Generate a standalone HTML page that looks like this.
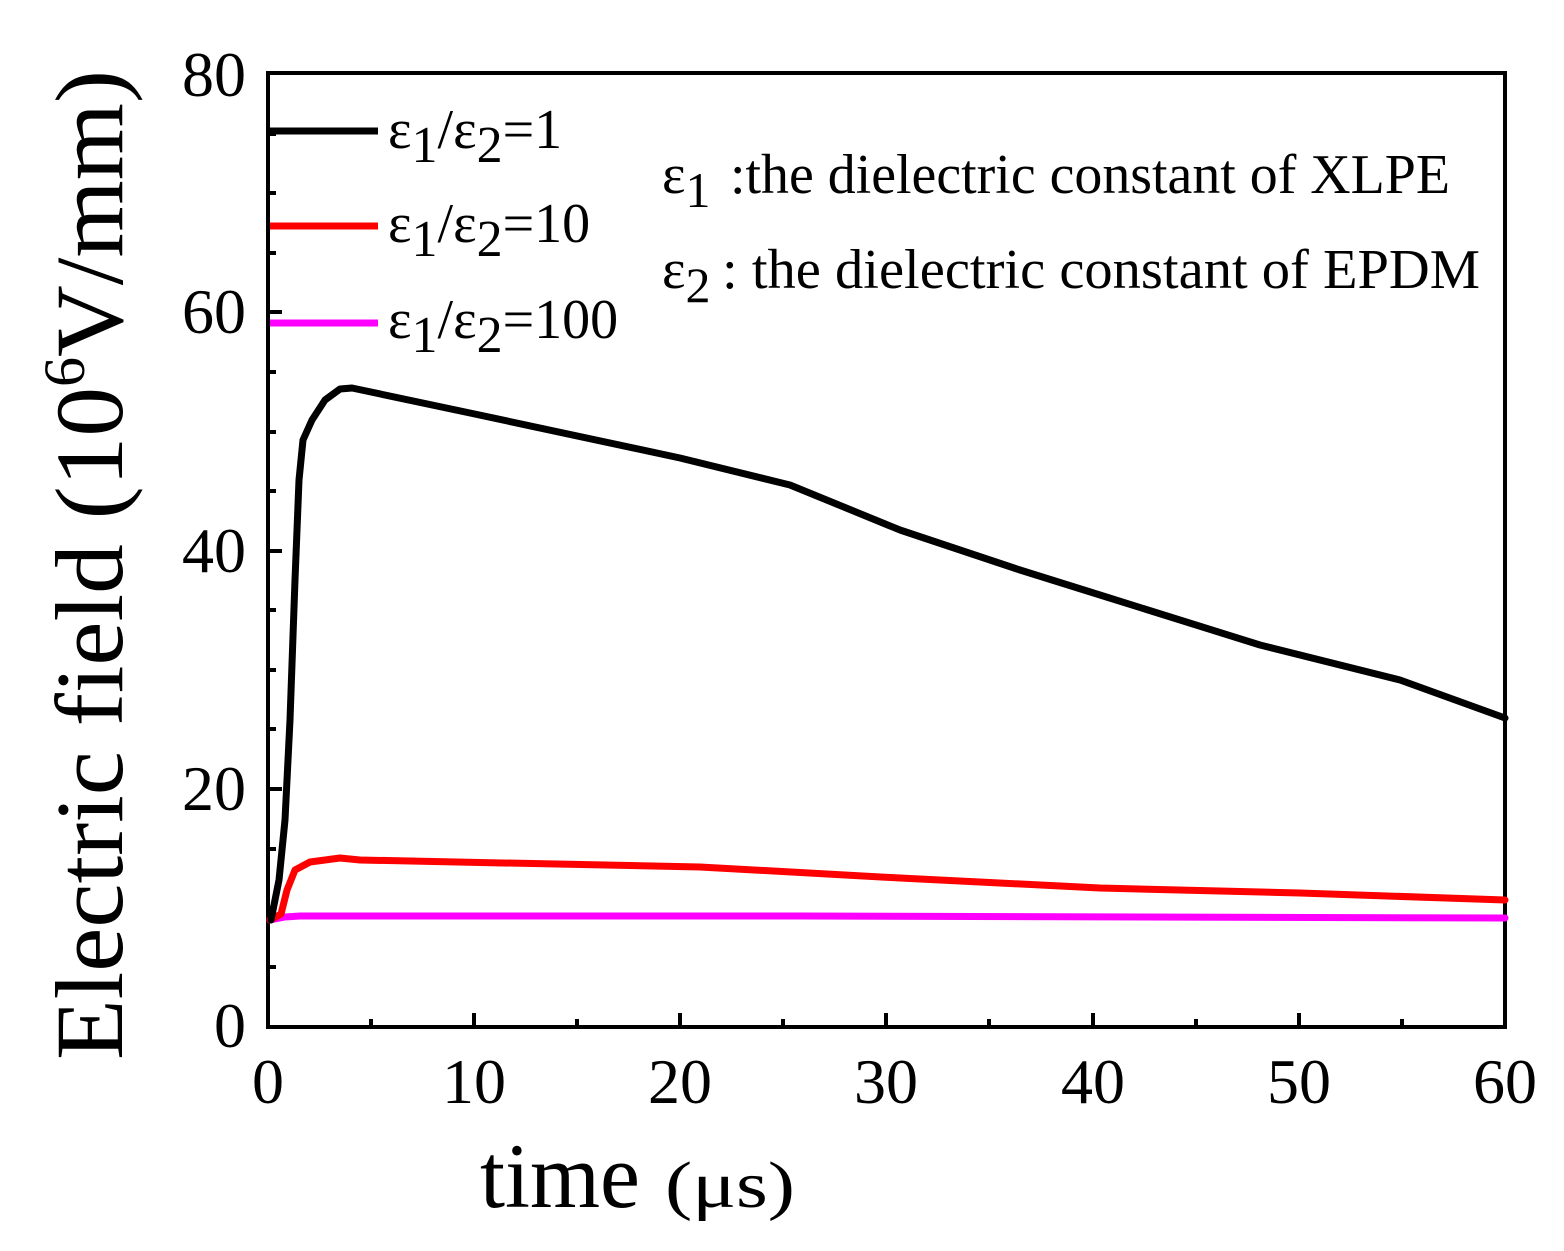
<!DOCTYPE html>
<html><head><meta charset="utf-8"><style>body{margin:0;background:#fff}svg{display:block}</style></head>
<body>
<svg width="1564" height="1251" viewBox="0 0 1564 1251" xmlns="http://www.w3.org/2000/svg" font-family="'Liberation Serif', serif">
<rect width="1564" height="1251" fill="#fff"/>
<g stroke="#000" stroke-width="4" fill="none">
<rect x="268" y="73" width="1237" height="954"/>
<path d="M268 1027v-14M371 1027v-8M474 1027v-14M577 1027v-8M680 1027v-14M783 1027v-8M886 1027v-14M989 1027v-8M1093 1027v-14M1196 1027v-8M1299 1027v-14M1402 1027v-8"/>
<path d="M268 967h8M268 789h14M268 908h8M268 849h8M268 729h8M268 670h8M268 610h8M268 551h14M268 491h8M268 432h8M268 372h8M268 312h14M268 253h8M268 193h8M268 134h8"/>
</g>
<g font-size="64" fill="#000">
<text x="268" y="1103" text-anchor="middle">0</text>
<text x="474" y="1103" text-anchor="middle">10</text>
<text x="680" y="1103" text-anchor="middle">20</text>
<text x="886" y="1103" text-anchor="middle">30</text>
<text x="1093" y="1103" text-anchor="middle">40</text>
<text x="1299" y="1103" text-anchor="middle">50</text>
<text x="1505" y="1103" text-anchor="middle">60</text>
<text x="246" y="1047" text-anchor="end">0</text>
<text x="246" y="810" text-anchor="end">20</text>
<text x="246" y="572" text-anchor="end">40</text>
<text x="246" y="333" text-anchor="end">60</text>
<text x="246" y="96" text-anchor="end">80</text>
</g>
<text x="480" y="1207" font-size="92" textLength="160" lengthAdjust="spacingAndGlyphs">time</text>
<text x="665" y="1207" font-size="66" textLength="130" lengthAdjust="spacingAndGlyphs">(μs)</text>
<text transform="translate(122,1060) rotate(-90)" font-size="96" textLength="990" lengthAdjust="spacingAndGlyphs">Electric field (10<tspan font-size="58" dy="-38">6</tspan><tspan dy="38">V/mm)</tspan></text>
<g stroke-width="7">
<path d="M270 131H378" stroke="#000"/>
<path d="M270 226H378" stroke="#f00"/>
<path d="M270 323H378" stroke="#f0f"/>
</g>
<g font-size="56">
<text x="388" y="148">ε<tspan font-size="52" dy="14">1</tspan><tspan dy="-14">/ε</tspan><tspan font-size="52" dy="14">2</tspan><tspan dy="-14">=1</tspan></text>
<text x="388" y="242">ε<tspan font-size="52" dy="14">1</tspan><tspan dy="-14">/ε</tspan><tspan font-size="52" dy="14">2</tspan><tspan dy="-14">=10</tspan></text>
<text x="388" y="338">ε<tspan font-size="52" dy="14">1</tspan><tspan dy="-14">/ε</tspan><tspan font-size="52" dy="14">2</tspan><tspan dy="-14">=100</tspan></text>
<text x="662" y="193">ε<tspan font-size="50" dy="14">1</tspan></text>
<text x="730" y="193" textLength="720" lengthAdjust="spacingAndGlyphs">:the dielectric constant of XLPE</text>
<text x="662" y="288">ε<tspan font-size="50" dy="14">2</tspan></text>
<text x="722" y="288" textLength="758" lengthAdjust="spacingAndGlyphs">: the dielectric constant of EPDM</text>
</g>
<g fill="none" stroke-width="7" stroke-linejoin="round" stroke-linecap="round">
<path stroke="#f0f" d="M270 920L285 917L300 916L800 916L1505 918"/>
<path stroke="#f00" d="M270 920L281 914L287 890L295 870L310 862L340 858L360 860L700 867L900 878L1100 888L1300 893L1505 900"/>
<path stroke="#000" d="M271 920L279 880L285 820L290 720L295 580L299 480L303 440L312 420L325 400L340 389L352 388L470 413L680 458L790 485L900 530L1020 570L1100 595L1260 645L1400 680L1505 718"/>
</g>
</svg>
</body></html>
